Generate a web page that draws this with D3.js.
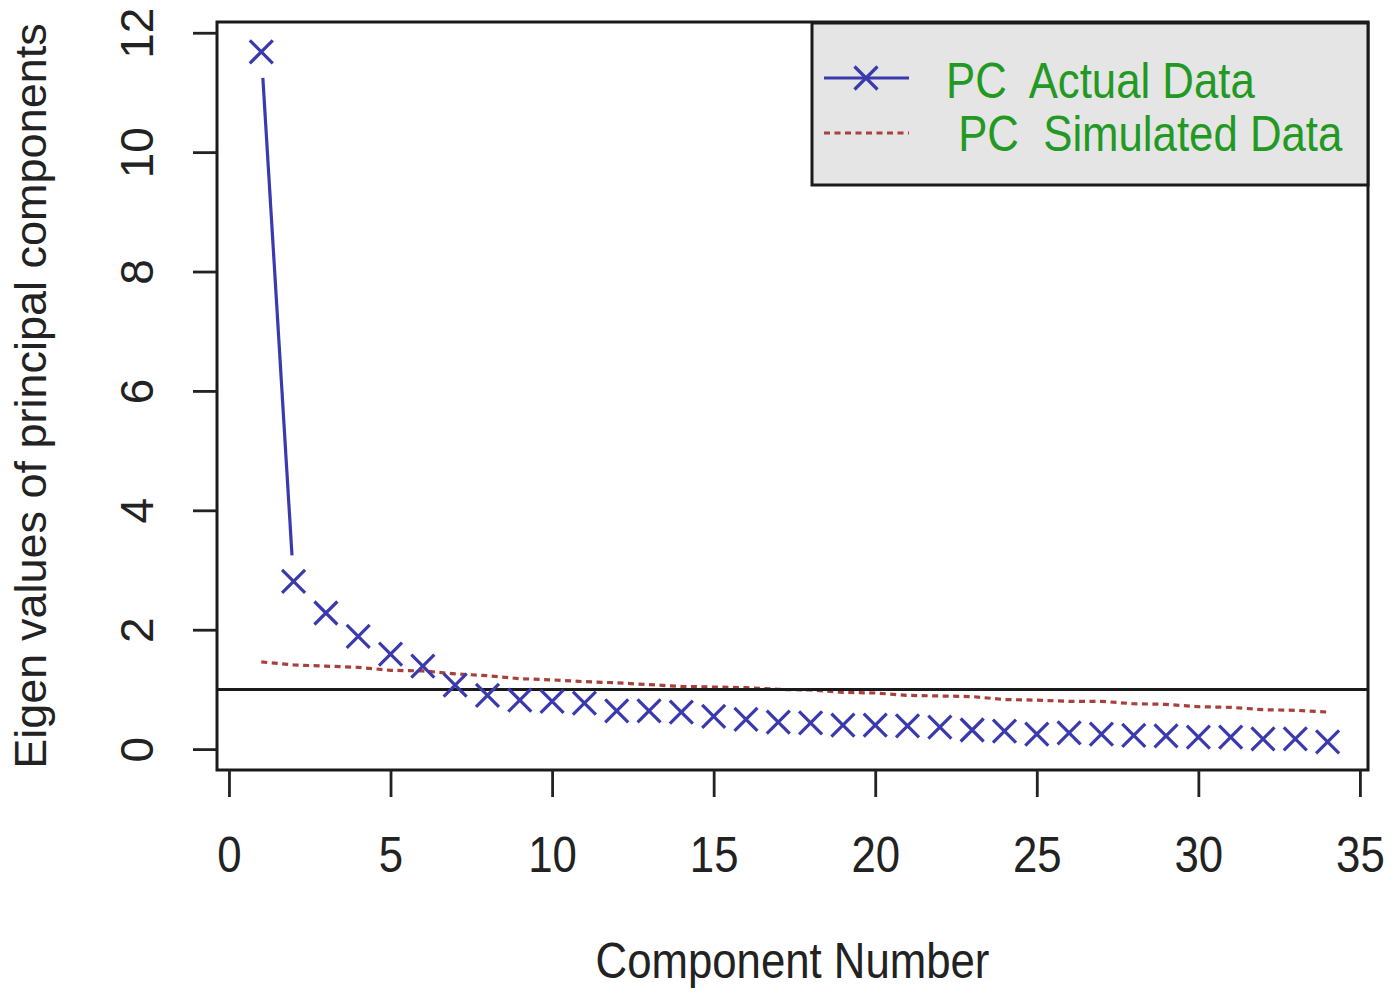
<!DOCTYPE html>
<html>
<head>
<meta charset="utf-8">
<script src="https://cdn.jsdelivr.net/npm/d3@7"></script>
<style>
  body { margin: 0; background: #fff; }
  text { font-family: "Liberation Sans", Arial, sans-serif; }
</style>
</head>
<body>
<div id="chart"></div>
<script>
"use strict";

// component numbers and eigen values
var components = d3.range(1, 35);
var actualValues = [11.68, 2.81, 2.28, 1.89, 1.59, 1.39, 1.07, 0.90, 0.82, 0.80,
  0.77, 0.64, 0.64, 0.62, 0.55, 0.50, 0.45, 0.44, 0.40, 0.40,
  0.39, 0.37, 0.32, 0.30, 0.25, 0.27, 0.25, 0.23, 0.22, 0.20,
  0.20, 0.17, 0.17, 0.12];
var simulatedValues = [1.46, 1.41, 1.39, 1.37, 1.32, 1.31, 1.26, 1.23, 1.18, 1.16,
  1.13, 1.11, 1.08, 1.05, 1.04, 1.03, 1.00, 0.99, 0.95, 0.94,
  0.90, 0.89, 0.88, 0.83, 0.82, 0.80, 0.80, 0.76, 0.75, 0.71,
  0.70, 0.66, 0.65, 0.62];
var xTicks = [0, 5, 10, 15, 20, 25, 30, 35];
var yTicks = [0, 2, 4, 6, 8, 10, 12];
var legendLabels = ["PC  Actual Data", " PC  Simulated Data"];
var refLine = 1;

var w = 1400,
  h = 994;
var box = { left: 217, right: 1368, top: 22, bottom: 770 };
var blue = "#3a3aae",
  red = "#a8403c",
  green = "#229922";
var squeeze = 0.875;

var svg = d3.select("#chart").append("svg").attr("width", w).attr("height", h);

var x = d3.scaleLinear().domain([-0.37, 35.25]).range([box.left, box.right]);
var y = d3.scaleLinear().domain([-0.35, 12.18]).range([box.bottom, box.top]);

// simulated data, dotted
var simLine = d3.line()
  .x(function (d, i) { return x(components[i]); })
  .y(function (d) { return y(d); });
svg.append("path")
  .datum(simulatedValues)
  .attr("d", simLine)
  .attr("fill", "none")
  .attr("stroke", red)
  .attr("stroke-width", 3.2)
  .attr("stroke-dasharray", "6,4.5");

// reference line at eigen value 1
svg.append("line")
  .attr("x1", box.left).attr("x2", box.right)
  .attr("y1", y(refLine)).attr("y2", y(refLine))
  .attr("stroke", "#1a1a1a").attr("stroke-width", 3);

// actual data: type "b" line, segments cut short around each point
var gap = 26;
var pts = actualValues.map(function (v, i) {
  return [x(components[i]), y(v)];
});
for (var i = 0; i < pts.length - 1; i++) {
  var a = pts[i], b = pts[i + 1];
  var dx = b[0] - a[0], dy = b[1] - a[1];
  var len = Math.sqrt(dx * dx + dy * dy);
  if (len <= 2 * gap) continue;
  var ux = dx / len, uy = dy / len;
  svg.append("line")
    .attr("x1", a[0] + ux * gap).attr("y1", a[1] + uy * gap)
    .attr("x2", b[0] - ux * gap).attr("y2", b[1] - uy * gap)
    .attr("stroke", blue).attr("stroke-width", 3.2);
}

var drawCross = function (g, cx, cy, r) {
  g.append("path")
    .attr("d", "M" + (cx - r) + "," + (cy - r) + "L" + (cx + r) + "," + (cy + r) +
      "M" + (cx - r) + "," + (cy + r) + "L" + (cx + r) + "," + (cy - r))
    .attr("stroke", blue)
    .attr("stroke-width", 3.2)
    .attr("fill", "none");
};

var crosses = svg.append("g");
pts.forEach(function (p) {
  drawCross(crosses, p[0], p[1], 11.5);
});

// plot box
svg.append("rect")
  .attr("x", box.left).attr("y", box.top)
  .attr("width", box.right - box.left).attr("height", box.bottom - box.top)
  .attr("fill", "none").attr("stroke", "#1a1a1a").attr("stroke-width", 3);

// x axis
var xAxis = svg.append("g")
  .attr("transform", "translate(0," + box.bottom + ")")
  .call(d3.axisBottom(x).tickValues(xTicks).tickSize(27).tickSizeOuter(0));
xAxis.select(".domain").remove();
xAxis.selectAll(".tick line").attr("stroke", "#222").attr("stroke-width", 2.8);
xAxis.selectAll(".tick text")
  .attr("y", null).attr("dy", null)
  .attr("transform", "translate(0,102) scale(" + squeeze + ",1)")
  .attr("font-size", 50)
  .attr("fill", "#222")
  .attr("text-anchor", "middle");

// y axis
var yAxis = svg.append("g")
  .attr("transform", "translate(" + box.left + ",0)")
  .call(d3.axisLeft(y).tickValues(yTicks).tickSize(24).tickSizeOuter(0));
yAxis.select(".domain").remove();
yAxis.selectAll(".tick line").attr("stroke", "#222").attr("stroke-width", 2.8);
yAxis.selectAll(".tick text")
  .attr("x", null).attr("dy", null)
  .attr("transform", "translate(-64,0) rotate(-90)")
  .attr("font-size", 46)
  .attr("fill", "#222")
  .attr("text-anchor", "middle");

// axis titles
svg.append("text")
  .attr("transform", "translate(" + ((box.left + box.right) / 2) + ",978) scale(" + squeeze + ",1)")
  .attr("text-anchor", "middle")
  .attr("font-size", 50)
  .attr("fill", "#222")
  .text("Component Number");

svg.append("text")
  .attr("transform", "translate(46," + ((box.top + box.bottom) / 2) + ") rotate(-90)")
  .attr("text-anchor", "middle")
  .attr("font-size", 45)
  .attr("fill", "#222")
  .text("Eigen values of principal components");

// legend
var legend = svg.append("g");
legend.append("rect")
  .attr("x", 812).attr("y", 23)
  .attr("width", box.right - 812).attr("height", 162)
  .attr("fill", "#e5e5e5")
  .attr("stroke", "#1a1a1a").attr("stroke-width", 3);
legend.append("line")
  .attr("x1", 824).attr("x2", 909).attr("y1", 78).attr("y2", 78)
  .attr("stroke", blue).attr("stroke-width", 3.2);
drawCross(legend, 866, 78, 11.5);
legend.append("line")
  .attr("x1", 824).attr("x2", 909).attr("y1", 133).attr("y2", 133)
  .attr("stroke", red).attr("stroke-width", 3.2)
  .attr("stroke-dasharray", "6,4.5");
legend.selectAll("text.lbl")
  .data(legendLabels)
  .enter().append("text")
  .attr("class", "lbl")
  .attr("transform", function (d, i) {
    return "translate(946," + (98 + i * 53) + ") scale(" + squeeze + ",1)";
  })
  .attr("font-size", 50)
  .attr("fill", green)
  .style("white-space", "pre")
  .text(function (d) { return d; });
</script>
</body>
</html>
